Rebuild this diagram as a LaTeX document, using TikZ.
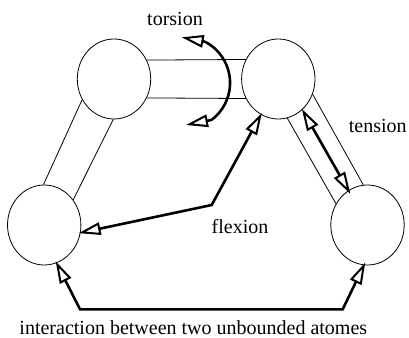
\documentclass[tikz,border=0pt]{standalone}
\usepackage{fontspec}
\setmainfont{Liberation Serif}
\usetikzlibrary{arrows.meta,shapes.geometric}
\begin{document}
\begin{tikzpicture}[x=1pt,y=1pt,
  atom/.style={draw, ellipse, line width=0.8pt, minimum width=73.4pt, minimum height=80pt, inner sep=0pt},
  bond/.style={line width=0.8pt},
  tipo/.tip={Triangle[open,length=22pt,width=12.5pt,line width=2pt]},
  force/.style={line width=2.6pt, line join=miter, tipo-tipo, shorten <=-2pt, shorten >=-2pt},
  head/.style={line width=2.6pt, -tipo},
  lbl/.style={font=\fontsize{20}{24}\selectfont, inner sep=0pt, anchor=base}]
\useasboundingbox (0,0) rectangle (409,337);
% atoms
\node[atom] (A) at (114,258) {};
\node[atom] (B) at (278.3,258) {};
\node[atom] (C) at (44.2,112) {};
\node[atom] (D) at (367.5,112) {};
% bonds
\draw[bond] (A.30.5) -- (B.149.5);
\draw[bond] (A.-30.5) -- (B.-149.5);
\draw[bond] (A.213) -- (C.91);
\draw[bond] (A.269) -- (C.41);
\draw[bond] (B.-77.9) -- (D.146.3);
\draw[bond] (B.-24.6) -- (D.96);
% torsion
\coordinate (tT) at (181.7,299.7);
\coordinate (bT) at (205,295.3);
\coordinate (tB) at (186,212);
\coordinate (bB) at (211.7,217.1);
\draw[line width=2.6pt] (bT) arc[start angle=62.6, end angle=-52.8, radius=46.4];
\draw[head] (bT) -- (tT);
\draw[head] (bB) -- (tB);
% tension
\draw[force, shorten <=-1pt, shorten >=-4pt] (B.-52.6) -- (D.119.3);
% flexion
\coordinate (fk) at (211.7,132);
\draw[force] (B.244) -- (fk) -- (C.-12);
% interaction
\coordinate (i1) at (80,27.7);
\coordinate (i2) at (342.7,27.7);
\draw[force, shorten >=-3pt] (C.-72) -- (i1) -- (i2) -- (D.-95.5);
% labels
\node[lbl] (ltor) at (175,311) {torsion};
\node[lbl] (lten) at (377.7,204.7) {tension};
\node[lbl] (lfle) at (240,103.7) {flexion};
\node[lbl] (lint) at (193.3,3) {interaction between two unbounded atomes};
\end{tikzpicture}
\end{document}
